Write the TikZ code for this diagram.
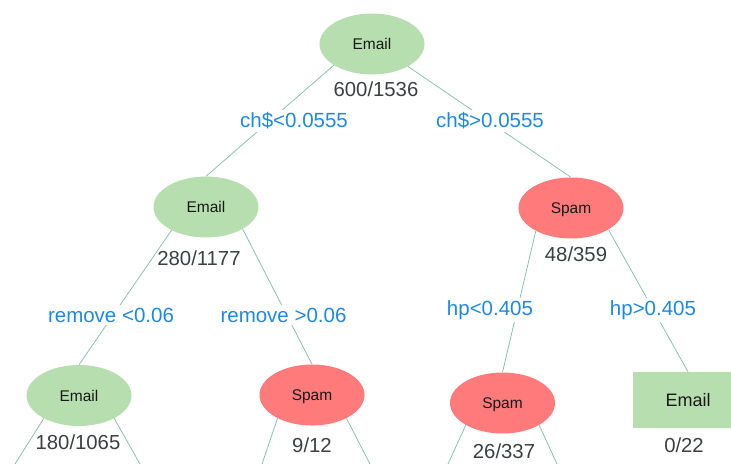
\documentclass[tikz,border=0pt]{standalone}
\usepackage{fontspec}
\setmainfont{Liberation Sans}
\usetikzlibrary{shapes.geometric}
\definecolor{leafgreen}{HTML}{B6DEAE}
\definecolor{spamred}{HTML}{FF7B7B}
\definecolor{splitblue}{HTML}{1E88E5}
\definecolor{countgray}{HTML}{3C4043}
\definecolor{edgecol}{HTML}{8CC2AA}
\begin{document}
\begin{tikzpicture}[x=1pt,y=-1pt,
  emailnode/.style={ellipse, fill=leafgreen, minimum width=105pt, minimum height=61pt,
    inner sep=0pt, text height=11.1pt, text depth=0pt, text=black!90,
    font=\fontsize{15.5}{18}\selectfont},
  spamnode/.style={emailnode, fill=spamred},
  leafbox/.style={rectangle, fill=leafgreen, minimum width=110pt, minimum height=56pt,
    inner sep=0pt, text height=12.9pt, text depth=0pt, text=black!90,
    font=\fontsize{18}{20}\selectfont},
  split/.style={fill=white, text=splitblue, inner sep=2.5pt, font=\fontsize{20.5}{22}\selectfont},
  count/.style={text=countgray, inner sep=0pt, font=\fontsize{20.3}{22}\selectfont},
  branch/.style={draw=edgecol, line width=0.8pt}]
\clip (0,0) rectangle (731,464);

% tree nodes
\node[emailnode] (root) at (372,44) {Email};
\node[emailnode] (e1) at (206,207) {Email};
\node[spamnode]  (s1) at (571,208) {Spam};
\node[emailnode] (e2) at (79,395.5) {Email};
\node[spamnode]  (s2) at (312,395) {Spam};
\node[spamnode]  (s3) at (502.5,403) {Spam};
\node[leafbox]   (r)  at (688,400) {Email};

% counts under each node
\node[count] (c0) at (376,89.5) {600/1536};
\node[count] (c1) at (199,258) {280/1177};
\node[count] (c2) at (576,254) {48/359};
\node[count] (c3) at (78,442) {180/1065};
\node[count] (c4) at (312,445) {9/12};
\node[count] (c5) at (504,451) {26/337};
\node[count] (c6) at (684,445) {0/22};

% loose ends of branches continuing below
\coordinate (e2l) at (15,464);
\coordinate (e2r) at (140,464);
\coordinate (s2l) at (262,464);
\coordinate (s2r) at (370,464);
\coordinate (s3l) at (448,464);
\coordinate (s3r) at (557,464);

% branches
\draw[branch] (root.209) -- (e1.north);
\draw[branch] (root.328.6) -- (s1.north);
\draw[branch] (e1.214) -- (e2.north);
\draw[branch] (e1.329.5) -- (s2.north);
\draw[branch] (s1.213) -- (s3.north);
\draw[branch] (s1.330) -- (r.north);
\draw[branch] (e2.213.5) -- (e2l);
\draw[branch] (e2.327.6) -- (e2r);
\draw[branch] (s2.214) -- (s2l);
\draw[branch] (s2.326.7) -- (s2r);
\draw[branch] (s3.211.5) -- (s3l);
\draw[branch] (s3.329.6) -- (s3r);

% split conditions
\node[split] (l1) at (294,121) {ch\$<0.0555};
\node[split] (l2) at (490,121) {ch\$>0.0555};
\node[split] (l3) at (111,315) {remove <0.06};
\node[split] (l4) at (283.5,315) {remove >0.06};
\node[split] (l5) at (490,310) {hp<0.405};
\node[split] (l6) at (653,310) {hp>0.405};
\end{tikzpicture}
\end{document}
